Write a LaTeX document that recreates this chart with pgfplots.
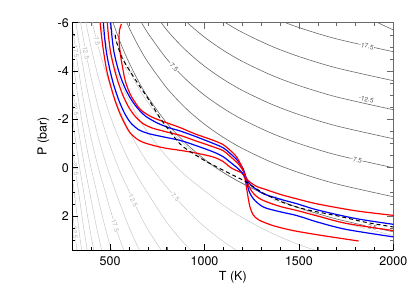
\documentclass[border=0pt]{standalone}
\usepackage{fontspec}
\setmainfont{TeX Gyre Heros}
\usepackage{pgfplots}
\pgfplotsset{compat=1.18}
\definecolor{cdark}{RGB}{105,105,105}
\definecolor{clight}{RGB}{200,200,200}
\definecolor{lbldark}{RGB}{85,85,85}
\definecolor{lbllight}{RGB}{180,180,180}
\tikzset{
 ll/.style={lbllight, fill=white, inner sep=0.4pt, font=\fontsize{6.5}{7}\selectfont},
 dl/.style={lbldark, fill=white, inner sep=0.4pt, font=\fontsize{6.5}{7}\selectfont},
}
\begin{document}
\begin{tikzpicture}
\pgfplotsset{
 base/.style={
  at={(0,0)}, anchor=south west,
  width=321pt, height=227.3pt, scale only axis,
  xmin=300, xmax=2000, ymin=-6, ymax=3.4, y dir=reverse,
  xtick={500,1000,1500,2000}, minor xtick={300,400,...,2000},
  ytick={-6,-4,-2,0,2}, minor ytick={-6,-5.5,...,3.5},
  tick align=inside,
  major tick length=6pt, minor tick length=3pt,
 },
 lt/.style={clight, line width=0.5pt, smooth},
 dk/.style={cdark, line width=0.6pt, smooth},
}
\begin{axis}[base, axis line style={cdark, line width=0.6pt}, every tick/.style={cdark, line width=0.5pt}, xticklabels={}, yticklabels={}]
% light contours
\addplot[lt] coordinates {(475,-6.49) (500,-5.9) (550,-4.882) (600,-4.033) (650,-3.315) (700,-2.7) (800,-1.7) (900,-0.922) (1000,-0.3) (1100,0.209) (1200,0.633) (1350,1.182) (1500,1.68) (1700,2.207) (2000,2.8)};
\addplot[lt] coordinates {(425,-6.626) (450,-5.894) (475,-5.24) (500,-4.65) (550,-3.632) (600,-2.783) (650,-2.065) (700,-1.45) (800,-0.45) (900,0.328) (1000,0.95) (1100,1.551) (1200,2.06) (1350,2.682) (1500,3.18) (1700,3.707)};
\addplot[lt] coordinates {(380,-6.937) (400,-6.2) (425,-5.376) (450,-4.644) (475,-3.99) (500,-3.4) (550,-2.382) (600,-1.533) (650,-0.815) (700,-0.2) (800,0.8) (900,1.694) (1000,2.44) (1100,3.051) (1200,3.56) (1350,4.18)};
\addplot[lt] coordinates {(360,-6.506) (380,-5.687) (400,-4.95) (425,-4.126) (450,-3.394) (475,-2.74) (500,-2.15) (550,-1.132) (600,-0.283) (650,0.435) (700,1.06) (800,2.26) (900,3.194) (1000,3.94)};
\addplot[lt] coordinates {(320,-7.2) (340,-6.171) (360,-5.256) (380,-4.437) (400,-3.7) (425,-2.876) (450,-2.144) (475,-1.49) (500,-0.9) (550,0.118) (600,0.967) (650,1.822) (700,2.56) (800,3.76)};
\addplot[lt] coordinates {(300,-7.117) (320,-5.95) (340,-4.921) (360,-4.006) (380,-3.187) (400,-2.45) (425,-1.626) (450,-0.894) (475,-0.24) (500,0.35) (550,1.442) (600,2.46) (650,3.322) (700,4.06)};
\addplot[lt] coordinates {(300,-5.867) (320,-4.7) (340,-3.671) (360,-2.756) (380,-1.937) (400,-1.2) (425,-0.376) (450,0.356) (475,1.012) (500,1.72) (550,2.942) (600,3.96)};
\addplot[lt] coordinates {(300,-4.617) (320,-3.45) (340,-2.421) (360,-1.506) (380,-0.687) (400,0.05) (425,0.874) (450,1.727) (475,2.512) (500,3.22) (550,4.44)};
\addplot[lt] coordinates {(300,-3.367) (320,-2.2) (340,-1.171) (360,-0.256) (380,0.563) (400,1.36) (425,2.349) (450,3.227) (475,4.01)};
\addplot[lt] coordinates {(300,-2.117) (320,-0.95) (340,0.079) (360,0.994) (380,1.976) (400,2.86) (425,3.849)};
\addplot[lt] coordinates {(300,-0.867) (320,0.3) (340,1.395) (360,2.493) (380,3.476) (400,4.36)};
\addplot[lt] coordinates {(300,0.383) (320,1.66) (340,2.895) (360,3.993)};
\addplot[lt] coordinates {(300,1.76) (320,3.16) (340,4.395)};
\addplot[lt] coordinates {(300,3.26) (320,4.66)};
% dark contours
\addplot[dk] coordinates {(500,-6.35) (550,-5.259) (600,-4.35) (650,-3.581) (700,-2.921) (800,-1.85) (900,-1.017) (1000,-0.35) (1100,0.195) (1200,0.65) (1350,1.206) (1500,1.65) (1700,2.121) (2000,2.65)};
\addplot[dk] coordinates {(550,-6.709) (600,-5.8) (650,-5.031) (700,-4.371) (800,-3.3) (900,-2.467) (1000,-1.8) (1100,-1.255) (1200,-0.8) (1350,-0.244) (1500,0.2) (1700,0.671) (2000,1.2)};
\addplot[dk] coordinates {(600,-7.0) (650,-6.231) (700,-5.571) (800,-4.5) (900,-3.667) (1000,-3.0) (1100,-2.455) (1200,-2.0) (1350,-1.444) (1500,-1.0) (1700,-0.529) (2000,0.0)};
\addplot[dk] coordinates {(700,-6.771) (800,-5.7) (900,-4.867) (1000,-4.2) (1100,-3.655) (1200,-3.2) (1350,-2.644) (1500,-2.2) (1700,-1.729) (2000,-1.2)};
\addplot[dk] coordinates {(800,-6.9) (900,-6.067) (1000,-5.4) (1100,-4.855) (1200,-4.4) (1350,-3.844) (1500,-3.4) (1700,-2.929) (2000,-2.4)};
\addplot[dk] coordinates {(1000,-6.6) (1100,-6.055) (1200,-5.6) (1350,-5.044) (1500,-4.6) (1700,-4.129) (2000,-3.6)};
\addplot[dk] coordinates {(1200,-6.8) (1350,-6.244) (1500,-5.8) (1700,-5.329) (2000,-4.8)};
\addplot[dk] coordinates {(1850,-6.25) (2000,-5.7)};
% labels
\node[dl, rotate=-12.5] at (axis cs:1857,-5.03) {-17.5};
\node[dl, rotate=-12.5] at (axis cs:1857,-2.83) {-12.5};
\node[dl, rotate=-13] at (axis cs:1805,-0.32) {-7.5};
\node[dl, rotate=-48] at (axis cs:835,-4.19) {-7.5};
\node[dl, rotate=-12] at (axis cs:1884,2.465) {-2.5};
\node[ll, rotate=-82] at (axis cs:318,-4.81) {17.5};
\node[ll, rotate=-79] at (axis cs:372,-4.75) {12.5};
\node[ll, rotate=-75] at (axis cs:430,-5.22) {7.5};
\node[ll, rotate=-63] at (axis cs:600,-4.03) {2.5};
\node[ll, rotate=-82] at (axis cs:316,-2.42) {22.5};
\node[ll, rotate=-82] at (axis cs:316,0.08) {27.5};
\node[ll, rotate=-83] at (axis cs:313,2.69) {32.5};
\node[ll, rotate=-64] at (axis cs:622,1.36) {12.5};
\node[ll, rotate=-72] at (axis cs:527,2.40) {17.5};
\node[ll, rotate=-47] at (axis cs:845,1.204) {7.5};
\node[ll, rotate=-20] at (axis cs:1390,1.324) {2.5};
% profiles
\addplot[red, line width=1.2pt, smooth] coordinates {(447,-6.0) (455,-5.4) (464,-4.87) (480,-4.1) (499,-3.49) (525,-2.8) (552,-2.24) (580,-1.78) (605,-1.45) (640,-1.2) (675,-1.05) (740,-0.9) (800,-0.8) (871,-0.72) (960,-0.6) (1048,-0.44) (1100,-0.25) (1136,-0.02) (1170,0.12) (1198,0.22) (1214,0.45) (1226,1.0) (1240,1.6) (1258,1.95) (1290,2.17) (1366,2.4) (1470,2.6) (1620,2.8) (1816,3.03)};
\addplot[blue, line width=1.2pt, smooth] coordinates {(464,-6) (472,-5.3) (482,-4.7) (500,-4.0) (520,-3.4) (548,-2.75) (580,-2.2) (610,-1.85) (650,-1.58) (700,-1.42) (780,-1.28) (871,-1.13) (950,-0.93) (1048,-0.65) (1100,-0.45) (1136,-0.23) (1180,0.05) (1210,0.3) (1222,0.55) (1235,0.95) (1260,1.3) (1313,1.63) (1400,1.82) (1490,1.98) (1600,2.25) (1750,2.55) (2000,2.86)};
\addplot[red, line width=1.2pt, smooth] coordinates {(485,-6) (492,-5.4) (502,-4.8) (520,-4.15) (540,-3.6) (565,-3.05) (595,-2.55) (630,-2.15) (670,-1.85) (720,-1.65) (800,-1.48) (871,-1.34) (950,-1.12) (1048,-0.86) (1100,-0.7) (1136,-0.47) (1180,-0.15) (1210,0.2) (1223,0.5) (1240,0.85) (1270,1.15) (1313,1.36) (1400,1.6) (1490,1.77) (1600,2.0) (1750,2.3) (2000,2.6)};
\addplot[blue, line width=1.2pt, smooth] coordinates {(503,-6) (510,-5.4) (520,-4.8) (538,-4.2) (558,-3.7) (585,-3.2) (615,-2.78) (650,-2.42) (690,-2.12) (750,-1.85) (810,-1.66) (871,-1.52) (950,-1.3) (1048,-1.0) (1100,-0.82) (1136,-0.59) (1175,-0.3) (1205,0.05) (1222,0.45) (1245,0.72) (1280,0.92) (1313,1.08) (1400,1.3) (1490,1.49) (1600,1.75) (1800,2.1) (2000,2.34)};
\addplot[red, line width=1.2pt, smooth] coordinates {(560,-5.95) (550,-5.7) (547,-5.4) (550,-5.0) (556,-4.6) (567,-4.1) (579,-3.63) (595,-3.25) (614,-2.93) (659,-2.42) (720,-2.1) (800,-1.86) (871,-1.66) (950,-1.4) (1048,-1.13) (1100,-0.95) (1136,-0.72) (1170,-0.45) (1198,-0.03) (1220,0.42) (1245,0.62) (1278,0.78) (1313,0.87) (1400,1.1) (1490,1.29) (1600,1.5) (1800,1.78) (2000,1.97)};
% dashed
\addplot[black, line width=1.0pt, dash pattern=on 4pt off 3pt, smooth] coordinates {(527,-5.5) (533,-5.23) (560,-4.6) (595,-4.12) (650,-3.45) (700,-2.87) (766,-2.04) (825,-1.42) (871,-0.98) (914,-0.72) (1000,-0.3) (1048,-0.1) (1136,0.25) (1216,0.57) (1313,1.06) (1392,1.35) (1444,1.52) (1550,1.75) (1709,2.0) (1850,2.25) (2000,2.45)};
\end{axis}
\begin{axis}[base, axis x line*=bottom, axis y line*=left,
  x axis line style={black, line width=0.8pt, -}, y axis line style={black, line width=0.8pt, -},
  every tick/.style={black, line width=0.6pt},
  /pgf/number format/assume math mode=true, /pgf/number format/1000 sep={}, scaled x ticks=false,
  tick label style={font=\fontsize{12.5}{14}\selectfont},
  label style={font=\fontsize{12.5}{14}\selectfont},
  xticklabel style={yshift=-3pt},
  xlabel={T (K)}, ylabel={P (bar)},
  x label style={at={(axis description cs:0.5,-0.119)}, anchor=center},
  y label style={at={(axis description cs:-0.09,0.5)}, anchor=center}]
\end{axis}
\pgfresetboundingbox
\path (-72.4pt,-47pt) rectangle (342.7pt,250pt);
\end{tikzpicture}
\end{document}
